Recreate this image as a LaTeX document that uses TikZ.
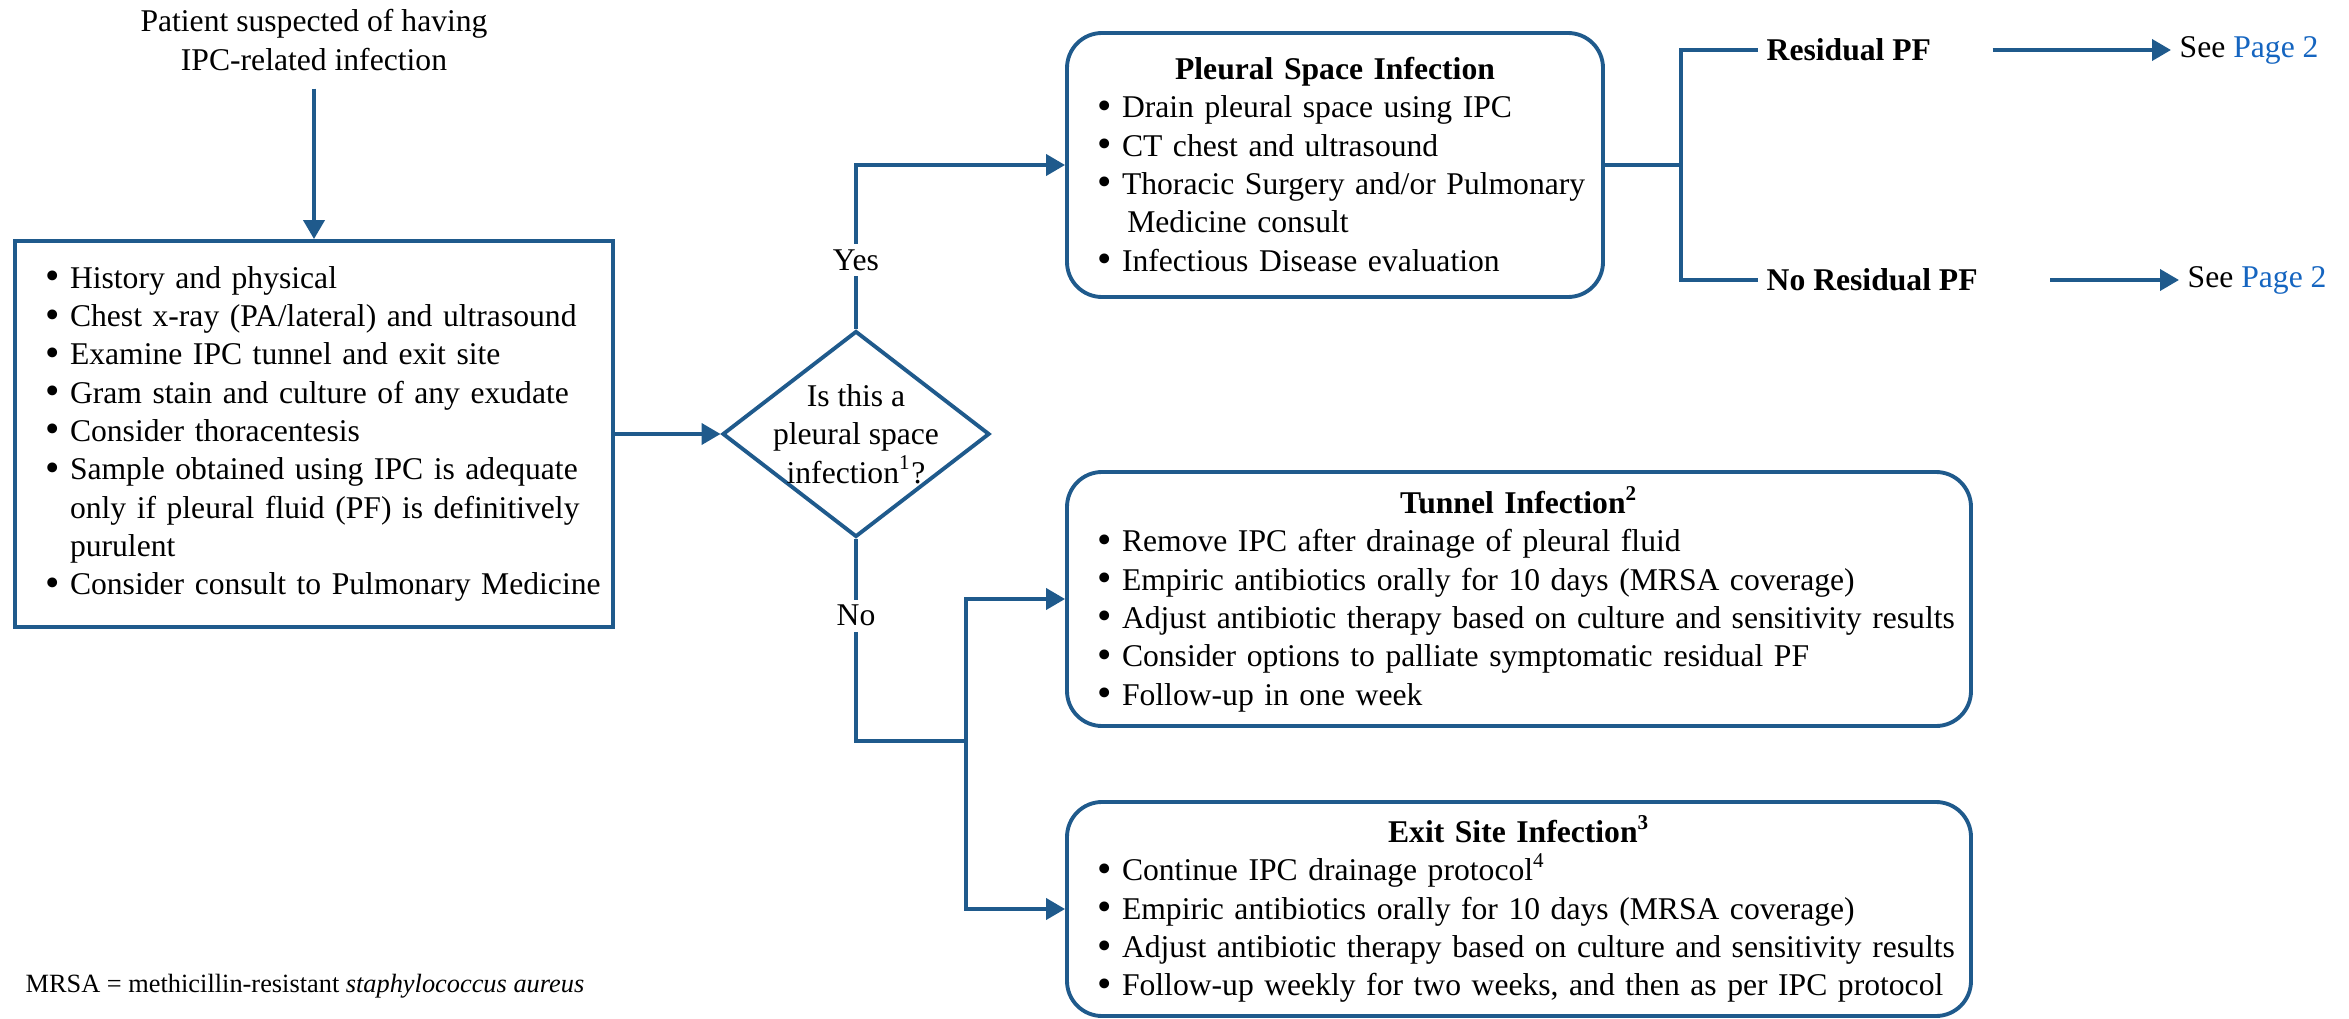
\documentclass[tikz,border=0pt]{standalone}
\usepackage{fontspec}
\setmainfont{Liberation Serif}
\usepackage{xcolor}
\usepackage{tikz}
\usetikzlibrary{positioning,arrows.meta,shapes.geometric,calc}
\definecolor{flowblue}{RGB}{31,90,140}
\definecolor{pagelink}{RGB}{21,101,192}
\newcommand{\bitem}[1]{\mbox{\makebox[0.25cm][l]{\raisebox{-0.4pt}{\scalebox{1.3}{\textbullet}}}#1}}
\newcommand{\bcont}[1]{\mbox{\hspace*{0.25cm}#1}}

\begin{document}
\begin{tikzpicture}[
    node font=\fontsize{9}{10.9}\selectfont,
    line/.style={draw=flowblue, line width=1.1pt},
    arrow/.style={line, -{Triangle[length=0.19cm, width=0.21cm]}},
    box/.style={draw=flowblue, line width=1.1pt, rectangle, align=left, inner xsep=0.3cm, inner ysep=0pt},
    roundbox/.style={box, rounded corners=0.35cm},
    decision/.style={draw=flowblue, line width=1.1pt, diamond, minimum width=2.67cm, minimum height=2.06cm, inner sep=0pt},
    tag/.style={fill=white, inner sep=1.5pt},
    outcome/.style={anchor=west, inner xsep=0.08cm},
    seepage/.style={anchor=west, inner xsep=0.08cm}
]
\useasboundingbox (0,0) rectangle (23.49,-10.19);

\node[align=center] (start) at (3.14,-0.40) {Patient suspected of having\\IPC-related infection};

\node[box, text width=5.38cm, minimum height=3.86cm] (exam) at (3.14,-4.34) {
\bitem{History and physical}\\
\bitem{Chest x-ray (PA/lateral) and ultrasound}\\
\bitem{Examine IPC tunnel and exit site}\\
\bitem{Gram stain and culture of any exudate}\\
\bitem{Consider thoracentesis}\\
\bitem{Sample obtained using IPC is adequate}\\
\bcont{only if pleural fluid (PF) is definitively}\\
\bcont{purulent}\\
\bitem{Consider consult to Pulmonary Medicine}};

\node[decision] (q) at (8.56,-4.34) {};
\node[align=center, inner sep=0pt] (qtext) at (q.center) {Is this a\\pleural space\\infection\textsuperscript{1}?};

\node[roundbox, text width=4.76cm, minimum height=2.64cm] (pleural) at (13.35,-1.65) {
\makebox[\linewidth][c]{\textbf{Pleural Space Infection}}\\
\bitem{Drain pleural space using IPC}\\
\bitem{CT chest and ultrasound}\\
\bitem{Thoracic Surgery and/or Pulmonary}\\
\bcont{\,Medicine consult}\\
\bitem{Infectious Disease evaluation}};

\node[roundbox, text width=8.44cm, minimum height=2.54cm] (tunnel) at (15.19,-5.99) {
\makebox[\linewidth][c]{\textbf{Tunnel Infection\textsuperscript{2}}}\\
\bitem{Remove IPC after drainage of pleural fluid}\\
\bitem{Empiric antibiotics orally for 10 days (MRSA coverage)}\\
\bitem{Adjust antibiotic therapy based on culture and sensitivity results}\\
\bitem{Consider options to palliate symptomatic residual PF}\\
\bitem{Follow-up in one week}};

\node[roundbox, text width=8.44cm, minimum height=2.14cm] (exit) at (15.19,-9.09) {
\makebox[\linewidth][c]{\textbf{Exit Site Infection\textsuperscript{3}}}\\
\bitem{Continue IPC drainage protocol\textsuperscript{4}}\\
\bitem{Empiric antibiotics orally for 10 days (MRSA coverage)}\\
\bitem{Adjust antibiotic therapy based on culture and sensitivity results}\\
\bitem{Follow-up weekly for two weeks, and then as per IPC protocol}};

\node[outcome] (resid) at (17.58,-0.50) {\textbf{Residual PF}};
\node[outcome] (nores) at (17.58,-2.80) {\textbf{No Residual PF}};
\node[seepage] (see1) at (21.71,-0.50) {See \textcolor{pagelink}{Page 2}};
\node[seepage] (see2) at (21.79,-2.80) {See \textcolor{pagelink}{Page 2}};

\node[anchor=west, inner sep=0pt] (note) at (0.25,-9.86) {\fontsize{7.5}{9}\selectfont MRSA = methicillin-resistant \textit{staphylococcus aureus}};

\coordinate (nojoin) at (9.66,-7.41);
\coordinate (pljoin) at (16.81,-1.65);

% connectors
\draw[arrow, shorten <=0.07cm] (start.south) -- (exam.north);
\draw[arrow] (exam.east) -- (q.west);
\draw[arrow] (q.north) |- (pleural.west) node[tag, pos=0.21] {Yes};
\draw[line] (q.south) |- (nojoin) node[tag, pos=0.19] {No};
\draw[arrow] (nojoin) |- (tunnel.west);
\draw[arrow] (nojoin) |- (exit.west);
\draw[line] (pleural.east) -- (pljoin);
\draw[line] (pljoin) |- (resid.west);
\draw[line] (pljoin) |- (nores.west);
\draw[arrow, shorten <=0.53cm] (resid.east) -- (see1.west);
\draw[arrow, shorten <=0.64cm] (nores.east) -- (see2.west);

\end{tikzpicture}
\end{document}
